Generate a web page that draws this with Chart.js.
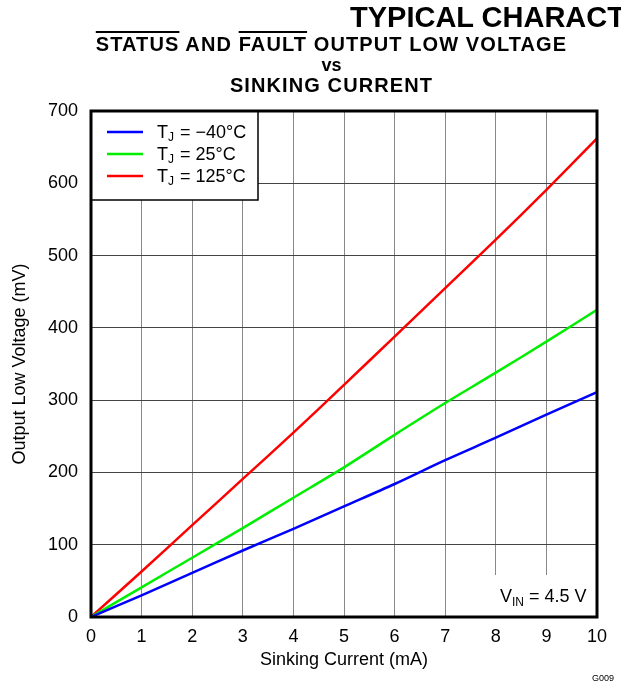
<!DOCTYPE html>
<html>
<head>
<meta charset="utf-8">
<script src="https://cdn.jsdelivr.net/npm/chart.js@4/dist/chart.umd.min.js"></script>
<style>
  html, body { margin: 0; padding: 0; background: #fff; }
  body { width: 621px; height: 689px; position: relative; overflow: hidden; font-family: "Liberation Sans", Arial, sans-serif; }
  #wrap { position: absolute; left: 0; top: 0; width: 621px; height: 689px; }
  .t { position: absolute; font-weight: bold; color: #000; white-space: nowrap; line-height: 1.15; }
  #t0 { left: 350px; top: 1px; font-size: 29px; }
  #t1 { left: 80px; top: 33px; font-size: 20px; letter-spacing: 1.1px; width: 503px; text-align: center; }
  #t2 { left: 80px; top: 55px; font-size: 18px; width: 503px; text-align: center; }
  #t3 { left: 80px; top: 74px; font-size: 20px; letter-spacing: 1.1px; width: 503px; text-align: center; }
  .ov { text-decoration: overline; text-decoration-thickness: 2px; }
  #code { position: absolute; left: 592px; top: 673px; font-size: 9px; color: #000; }
</style>
</head>
<body>
<div id="wrap"><canvas id="myChart" width="621" height="689"></canvas></div>
<div class="t" id="t0">TYPICAL CHARACTERISTICS</div>
<div class="t" id="t1"><span class="ov">STATUS</span> AND <span class="ov">FAULT</span> OUTPUT LOW VOLTAGE</div>
<div class="t" id="t2">vs</div>
<div class="t" id="t3">SINKING CURRENT</div>
<div id="code">G009</div>
<script>
const currents = [0, 1, 2, 3, 4, 5, 6, 7, 8, 9, 10];
const voltsMinus40 = [0, 30, 61, 92, 122, 153, 184, 217, 248, 280, 311];
const volts25 = [0, 41, 82, 123, 165, 207, 252, 296, 338, 381, 425];
const volts125 = [0, 63, 127, 191, 255, 321, 388, 455, 522, 591, 662];
const seriesLabels = ['\u221240\u00b0C', '25\u00b0C', '125\u00b0C'];
const xTicks = [0, 1, 2, 3, 4, 5, 6, 7, 8, 9, 10];
const yTicks = [0, 100, 200, 300, 400, 500, 600, 700];

const FONT = '"Liberation Sans", Arial, sans-serif';

const toPoints = function(vals) {
  return currents.map((c, i) => ({x: c, y: vals[i]}));
};

// legend box, condition box and frame drawn on top of the grid
const boxes = {
  id: 'boxes',
  afterDatasetsDraw(chart) {
    const {ctx, chartArea: a} = chart;
    ctx.save();
    // legend
    const lx = a.left, ly = a.top, lw = 167, lh = 89;
    ctx.fillStyle = '#fff';
    ctx.fillRect(lx, ly, lw, lh);
    ctx.strokeStyle = '#000';
    ctx.lineWidth = 1.5;
    ctx.strokeRect(lx, ly, lw, lh);
    chart.data.datasets.forEach((ds, i) => {
      const y = ly + 21 + i * 22;
      ctx.strokeStyle = ds.borderColor;
      ctx.lineWidth = 2.5;
      ctx.beginPath();
      ctx.moveTo(lx + 16, y);
      ctx.lineTo(lx + 52, y);
      ctx.stroke();
      ctx.fillStyle = '#000';
      ctx.textBaseline = 'alphabetic';
      ctx.font = '18px ' + FONT;
      let x = lx + 66;
      ctx.fillText('T', x, y + 6);
      x += ctx.measureText('T').width;
      ctx.font = '12px ' + FONT;
      ctx.fillText('J', x, y + 9);
      x += ctx.measureText('J').width + 1;
      ctx.font = '18px ' + FONT;
      ctx.fillText(' = ' + seriesLabels[i], x, y + 6);
    });
    // condition box
    const bw = 109, bh = 42;
    const bx = a.right - bw, by = a.bottom - bh;
    ctx.fillStyle = '#fff';
    ctx.fillRect(bx, by, bw, bh);
    ctx.fillStyle = '#000';
    ctx.font = '18px ' + FONT;
    let x = bx + 12;
    const ty = by + 27;
    ctx.fillText('V', x, ty);
    x += ctx.measureText('V').width;
    ctx.font = '12px ' + FONT;
    ctx.fillText('IN', x, ty + 4);
    x += ctx.measureText('IN').width;
    ctx.font = '18px ' + FONT;
    ctx.fillText(' = 4.5 V', x, ty);
    // frame
    ctx.strokeStyle = '#000';
    ctx.lineWidth = 3;
    ctx.strokeRect(a.left, a.top, a.right - a.left, a.bottom - a.top);
    ctx.restore();
  },
};

const $ctx = document.getElementById('myChart');
const myChart = new Chart($ctx, {
  type: 'line',
  data: {
    datasets: [
      {label: seriesLabels[0], data: toPoints(voltsMinus40), borderColor: '#0000ff'},
      {label: seriesLabels[1], data: toPoints(volts25), borderColor: '#00ee00'},
      {label: seriesLabels[2], data: toPoints(volts125), borderColor: '#ff0000'},
    ],
  },
  options: {
    responsive: false,
    animation: false,
    devicePixelRatio: 1,
    layout: {padding: {top: 111, right: 24, left: 0, bottom: 18}},
    elements: {
      line: {borderWidth: 2.5, tension: 0.3, fill: false},
      point: {radius: 0},
    },
    plugins: {legend: {display: false}, tooltip: {enabled: false}},
    scales: {
      x: {
        type: 'linear',
        min: 0,
        max: 10,
        afterFit(s) { s.height = 54; },
        afterBuildTicks(s) { s.ticks = xTicks.map(v => ({value: v})); },
        grid: {color: '#888', lineWidth: 1, drawTicks: false},
        border: {display: false},
        ticks: {color: '#000', font: {size: 18, family: FONT}, padding: 9},
        title: {display: true, text: 'Sinking Current (mA)', color: '#000', font: {size: 18, family: FONT}, padding: {top: 2, bottom: 0}},
      },
      y: {
        min: 0,
        max: 700,
        afterFit(s) { s.width = 91; },
        afterBuildTicks(s) { s.ticks = yTicks.map(v => ({value: v})); },
        grid: {color: '#444', lineWidth: 1, drawTicks: false},
        border: {display: false},
        ticks: {color: '#000', font: {size: 18, family: FONT}, padding: 13},
        title: {display: true, text: 'Output Low Voltage (mV)', color: '#000', font: {size: 18, family: FONT}, padding: {top: 9, bottom: 0}},
      },
    },
  },
  plugins: [boxes],
});
</script>
</body>
</html>
